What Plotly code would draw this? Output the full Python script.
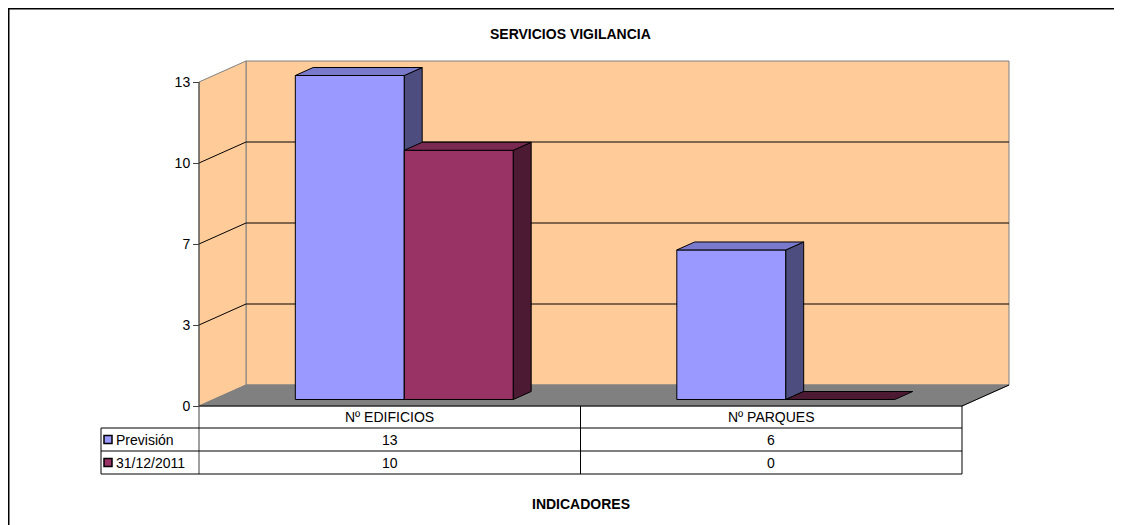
import math
import plotly.graph_objects as go

# ---------------- data ----------------
categories = ["Nº EDIFICIOS", "Nº PARQUES"]
series_names = ["Previsión", "31/12/2011"]
prevision = [13, 6]
real_2011 = [10, 0]
axis_max = 13
n_major = 4
title_text = "SERVICIOS VIGILANCIA"
x_title = "INDICADORES"

# ---------------- style ----------------
OFF = 8                              # page body margin
W, H = 1122 - OFF, 525 - OFF         # figure size
X0_PX, CAT_PX = 199 - OFF, 381.5     # pixel of x=0 and width of one category
Y0_PX, UNIT_PX = 406 - OFF, 324 / 13 # pixel of y=0 and px per value unit
DX = 47 / CAT_PX                     # depth offset (x units)
DY = 21 / UNIT_PX                    # depth offset (y units)
R = 0.38                             # bar depth fraction
GAP = 1.5                            # gap width (150%)
front = {"Previsión": "#9999FF", "31/12/2011": "#993366"}
top = {"Previsión": "#7A7ACC", "31/12/2011": "#7A2952"}
side = {"Previsión": "#4D4D80", "31/12/2011": "#4D1A33"}
WALL = "#FFCC99"
FLOOR = "#808080"
FONT = "Liberation Sans, Arial, sans-serif"
FS = 14

xr = [-X0_PX / CAT_PX, (W - X0_PX) / CAT_PX]
yr = [-(H - Y0_PX) / UNIT_PX, Y0_PX / UNIT_PX]

def px_x(p):
    return (p - OFF - X0_PX) / CAT_PX

def px_h(p):
    return p / UNIT_PX

fig = go.Figure()

def poly(xs, ys, fill, line="black", width=1):
    fig.add_trace(go.Scatter(x=list(xs) + [xs[0]], y=list(ys) + [ys[0]], mode="lines",
                             fill="toself", fillcolor=fill,
                             line=dict(color=line, width=width),
                             hoverinfo="skip", showlegend=False))

def seg(x0, y0, x1, y1, color="black", width=1):
    fig.add_trace(go.Scatter(x=[x0, x1], y=[y0, y1], mode="lines",
                             line=dict(color=color, width=width),
                             hoverinfo="skip", showlegend=False))

ncat = len(categories)
tickvals = [axis_max * i / n_major for i in range(n_major + 1)]
ticktext = [str(int(math.floor(v + 0.5))) for v in tickvals]

# walls
poly([DX, ncat + DX, ncat + DX, DX], [DY, DY, axis_max + DY, axis_max + DY], WALL, "#808080")
poly([0, DX, DX, 0], [0, DY, axis_max + DY, axis_max], WALL, "#808080")
# gridlines
for v in tickvals[1:-1]:
    seg(0, v, DX, v + DY)
    seg(DX, v + DY, ncat + DX, v + DY)
# floor
poly([0, ncat, ncat + DX, DX], [0, 0, DY, DY], FLOOR, FLOOR)
seg(ncat, 0, ncat + DX, DY)
seg(0, 0, ncat, 0)

# bars
w = 1 / (len(series_names) + GAP)
fx, fy = (1 - R) / 2 * DX, (1 - R) / 2 * DY
bx, by = R * DX, R * DY
all_vals = [prevision, real_2011]
for i in range(ncat):
    for j, name in enumerate(series_names):
        v = all_vals[j][i]
        xl = i + GAP / 2 * w + j * w + fx
        xrr = xl + w
        b = fy
        t = v + fy
        if v > 0:
            poly([xl, xrr, xrr, xl], [b, b, t, t], front[name])
            poly([xrr, xrr + bx, xrr + bx, xrr], [b, b + by, t + by, t], side[name])
        poly([xl, xrr, xrr + bx, xl + bx], [t, t, t + by, t + by], top[name] if v > 0 else side[name])

# front axis line / table left divider
rows = [px_h(22), px_h(45), px_h(68)]
leg_x = px_x(101)
seg(0, axis_max, 0, -rows[2], "#404040")

# table lines
for yy in rows:
    seg(leg_x, -yy, ncat, -yy, "black")
seg(leg_x, -rows[0], leg_x, -rows[2], "black")
for i in range(1, ncat + 1):
    seg(i, 0, i, -rows[2], "black")

ann = []
tf = dict(family=FONT, size=FS, color="black")
row_mid = [-rows[0] / 2, -(rows[0] + rows[1]) / 2, -(rows[1] + rows[2]) / 2]
for i, c in enumerate(categories):
    ann.append(dict(x=i + 0.5, y=row_mid[0], text=c, showarrow=False, xref="x", yref="y",
                    yanchor="middle", font=tf))
    for j in range(len(series_names)):
        ann.append(dict(x=i + 0.5, y=row_mid[j + 1], text=str(all_vals[j][i]), showarrow=False,
                        xref="x", yref="y", yanchor="middle", font=tf))
for j, name in enumerate(series_names):
    fig.add_trace(go.Scatter(x=[px_x(108)], y=[row_mid[j + 1]], mode="markers",
                             marker=dict(symbol="square", size=8, color=front[name],
                                         line=dict(color="black", width=1.5)),
                             hoverinfo="skip", showlegend=False))
    ann.append(dict(x=px_x(114), y=row_mid[j + 1], text=name, showarrow=False, xref="x", yref="y",
                    xanchor="left", yanchor="middle", font=tf))

ann.append(dict(x=(570 - OFF) / W, y=1 - (34 - OFF) / H, xref="paper", yref="paper",
                xanchor="center", yanchor="middle", text="<b>%s</b>" % title_text,
                showarrow=False, font=dict(family=FONT, size=FS, color="black")))
ann.append(dict(x=1, y=-(504 - 406) / UNIT_PX, xref="x", yref="y", text="<b>%s</b>" % x_title,
                xanchor="center", yanchor="middle",
                showarrow=False, font=dict(family=FONT, size=FS, color="black")))

shapes = [
    dict(type="line", xref="paper", yref="paper", x0=0, x1=1, y0=1, y1=1,
         line=dict(color="black", width=3)),
    dict(type="line", xref="paper", yref="paper", x0=0, x1=0, y0=0, y1=1,
         line=dict(color="black", width=3)),
]

fig.update_layout(
    width=W, height=H, margin=dict(l=0, r=0, t=0, b=0),
    paper_bgcolor="white", plot_bgcolor="white",
    annotations=ann, shapes=shapes, showlegend=False,
    xaxis=dict(range=xr, visible=False, fixedrange=True),
    yaxis=dict(range=yr, showgrid=False, zeroline=False, showline=False,
               tickmode="array", tickvals=tickvals, ticktext=ticktext,
               ticks="outside", ticklen=6, tickcolor="#404040",
               anchor="free", position=X0_PX / W,
               tickfont=dict(family=FONT, size=FS, color="black"), fixedrange=True),
)

fig.write_html("out.html")
